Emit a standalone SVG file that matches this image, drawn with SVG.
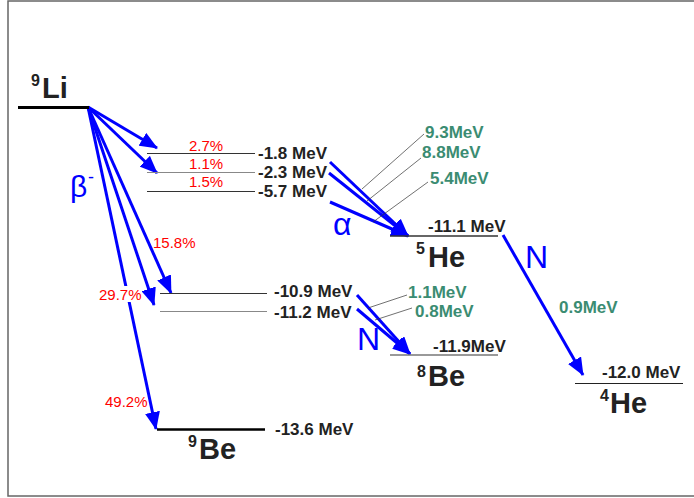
<svg xmlns="http://www.w3.org/2000/svg" width="694" height="498" viewBox="0 0 694 498">
<defs>
<marker id="ah" markerUnits="userSpaceOnUse" markerWidth="19" markerHeight="15" refX="17" refY="7.5" orient="auto"><path d="M0,0 L18,7.5 L0,15 Z" fill="#0000ff"/></marker>
<style>
.frame{fill:none;stroke:#666;stroke-width:1.5}
.lvl{stroke:#333;stroke-width:1;fill:none}
.lvlg{stroke:#888;stroke-width:1;fill:none}
.mev{font-family:"Liberation Sans",Arial,sans-serif;font-weight:bold;font-size:17px;fill:#222}
.pct{font-family:"Liberation Sans",Arial,sans-serif;font-size:15px;fill:#ff0000}
.grn{font-family:"Liberation Sans",Arial,sans-serif;font-weight:bold;font-size:17px;fill:#3b8c72}
.nuc{font-family:"Liberation Sans",Arial,sans-serif;font-weight:bold;font-size:29px;fill:#222}
.sup{font-size:16px}
.arr{stroke:#0000ff;stroke-width:3;fill:none;marker-end:url(#ah)}
.lead{stroke:#333;stroke-width:0.7;fill:none}
.sym{font-family:"Liberation Sans",Arial,sans-serif;fill:#0000ff}
</style>
</defs>
<rect width="694" height="498" fill="#fff"/>
<rect class="frame" x="8" y="1" width="690" height="495"/>

<g id="connectors">
<path class="arr" d="M88,107 L157,148"/>
<path class="arr" d="M88,107 L157,173"/>
<path class="arr" d="M88,107 L171,293"/>
<path class="arr" d="M88,107 L154,305"/>
<path class="arr" d="M88,107 L156,429"/>
<path class="arr" d="M330,162 L408,236"/>
<path class="arr" d="M329,173 L408,236"/>
<path class="arr" d="M330,202 L408,236"/>
<path class="arr" d="M357,295 L410,354"/>
<path class="arr" d="M357,309 L410,354"/>
<path class="arr" d="M503,235 L583,375"/>
<path class="lead" d="M424,134 L362,189 M421,158 L367,201 M428,182 L373,222 M407,295 L368,308 M412,308 L375,320"/>
</g>

<g id="Li9">
<path d="M18,107.5 H89" stroke="#000" stroke-width="3"/>
<text class="nuc"><tspan class="sup" x="31" y="86">9</tspan><tspan x="42" y="98">Li</tspan></text>
<text class="sym" x="70" y="197" font-size="30">β</text>
<text class="sym" x="88" y="183" font-size="18">-</text>
</g>

<g id="lvl-1.8">
<path class="lvl" d="M147,153.5 H255"/>
<text class="pct" x="206" y="151" text-anchor="middle">2.7%</text>
<text class="mev" x="258" y="159">-1.8 MeV</text>
</g>
<g id="lvl-2.3">
<path class="lvlg" d="M147,172.5 H255"/>
<text class="pct" x="206" y="169" text-anchor="middle">1.1%</text>
<text class="mev" x="258" y="178">-2.3 MeV</text>
</g>
<g id="lvl-5.7">
<path class="lvl" d="M147,191.5 H255"/>
<text class="pct" x="206" y="187" text-anchor="middle">1.5%</text>
<text class="mev" x="258" y="197">-5.7 MeV</text>
</g>
<g id="lvl-10.9">
<path class="lvl" d="M160,293.5 H267"/>
<text class="pct" x="153" y="248">15.8%</text>
<text class="mev" x="274" y="297">-10.9 MeV</text>
</g>
<g id="lvl-11.2">
<path class="lvlg" d="M160,311.5 H267"/>
<rect x="98" y="286" width="43" height="16" fill="#fff"/>
<text class="pct" x="99" y="300">29.7%</text>
<text class="mev" x="274" y="318">-11.2 MeV</text>
</g>
<g id="Be9">
<path d="M157,429.5 H265" stroke="#000" stroke-width="2.5"/>
<text class="pct" x="105" y="407">49.2%</text>
<text class="mev" x="275" y="435">-13.6 MeV</text>
<text class="nuc"><tspan class="sup" x="188" y="447">9</tspan><tspan x="199" y="459">Be</tspan></text>
</g>
<g id="He5">
<path d="M390,236 H498" stroke="#333" stroke-width="1.5"/>
<text class="mev" x="428" y="232">-11.1 MeV</text>
<text class="nuc"><tspan class="sup" x="416" y="254">5</tspan><tspan x="428" y="267">He</tspan></text>
<text class="sym" x="333" y="235" font-size="32">α</text>
<text class="grn" x="425" y="138">9.3MeV</text>
<text class="grn" x="422" y="158">8.8MeV</text>
<text class="grn" x="430" y="184">5.4MeV</text>
</g>
<g id="Be8">
<path d="M390,355 H498" stroke="#777" stroke-width="1.5"/>
<text class="mev" x="433" y="352">-11.9MeV</text>
<text class="nuc"><tspan class="sup" x="417" y="377">8</tspan><tspan x="428" y="386">Be</tspan></text>
<text class="sym" x="357" y="350" font-size="32">N</text>
<text class="grn" x="408" y="298">1.1MeV</text>
<text class="grn" x="415" y="317">0.8MeV</text>
</g>
<g id="He4">
<path d="M575,383.5 H683" stroke="#222" stroke-width="1"/>
<text class="mev" x="602" y="378">-12.0 MeV</text>
<text class="nuc"><tspan class="sup" x="600" y="401">4</tspan><tspan x="610" y="413">He</tspan></text>
<text class="sym" x="525" y="268" font-size="32">N</text>
<text class="grn" x="559" y="313">0.9MeV</text>
</g>
</svg>
